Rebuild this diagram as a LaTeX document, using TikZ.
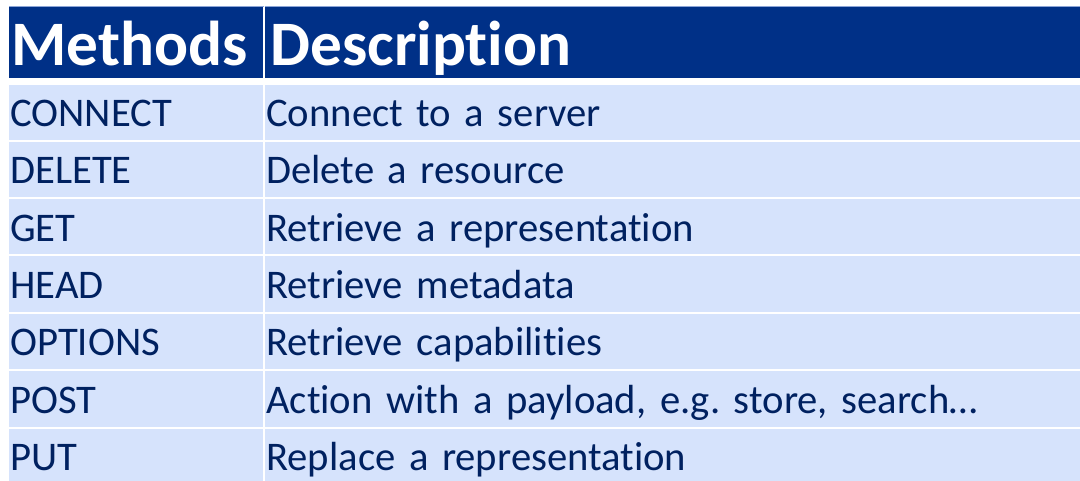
\documentclass[tikz,border=0pt]{standalone}
\usepackage{fontspec}
\setmainfont{Carlito}[Ligatures=NoCommon]
\frenchspacing
\definecolor{headblue}{RGB}{0,48,135}
\definecolor{rowblue}{RGB}{214,227,252}
\definecolor{textblue}{RGB}{0,33,96}
\definecolor{lineblue}{RGB}{140,165,215}
\tikzset{
  head cell/.style={
    anchor=north west,
    fill=headblue,
    text=white,
    font=\fontsize{47.5pt}{50pt}\selectfont\bfseries,
    inner xsep=1.5pt, inner ysep=0pt,
    text height=43.5pt, text depth=9.75pt,
    align=left,
  },
  body cell/.style={
    anchor=north west,
    fill=rowblue,
    text=textblue,
    font=\fontsize{30.5pt}{33pt}\selectfont,
    inner xsep=0.75pt, inner ysep=0pt,
    text height=31.5pt, text depth=10pt,
    align=left,
  },
  left col/.style={text width=190.5pt-1.5pt},
  right col/.style={text width=611.25pt-1.5pt},
}

\begin{document}
\begin{tikzpicture}[x=0.75pt, y=-0.75pt]
        \useasboundingbox (0,0) rectangle (1080,481);

        \node[head cell, text width=187.5pt] (m0) at (9,7) {Methods};
        \node[head cell, text width=608.25pt, inner xsep=4pt] (d0) at (265,7) {Description};
        \draw[lineblue, line width=0.75pt] (m0.north west) -- (m0.north east);
        \draw[lineblue, line width=0.75pt] (d0.north west) -- (d0.north east);

        \node[body cell, left col, text height=30.75pt] (m1) at (9,85) {CONNECT};
        \node[body cell, right col, text height=30.75pt] (d1) at (265,85) {Connect to a server};
        \node[body cell, left col] (m2) at (9,141.4) {DELETE};
        \node[body cell, right col] (d2) at (265,141.4) {Delete a resource};
        \node[body cell, left col] (m3) at (9,198.8) {GET};
        \node[body cell, right col] (d3) at (265,198.8) {Retrieve a representation};
        \node[body cell, left col] (m4) at (9,256.2) {HEAD};
        \node[body cell, right col] (d4) at (265,256.2) {Retrieve metadata};
        \node[body cell, left col] (m5) at (9,313.6) {OPTIONS};
        \node[body cell, right col] (d5) at (265,313.6) {Retrieve capabilities};
        \node[body cell, left col] (m6) at (9,371) {POST};
        \node[body cell, right col] (d6) at (265,371) {Action with a payload, e.g. store, search…};
        \node[body cell, left col] (m7) at (9,428.4) {PUT};
        \node[body cell, right col] (d7) at (265,428.4) {Replace a representation};
\end{tikzpicture}
\end{document}
